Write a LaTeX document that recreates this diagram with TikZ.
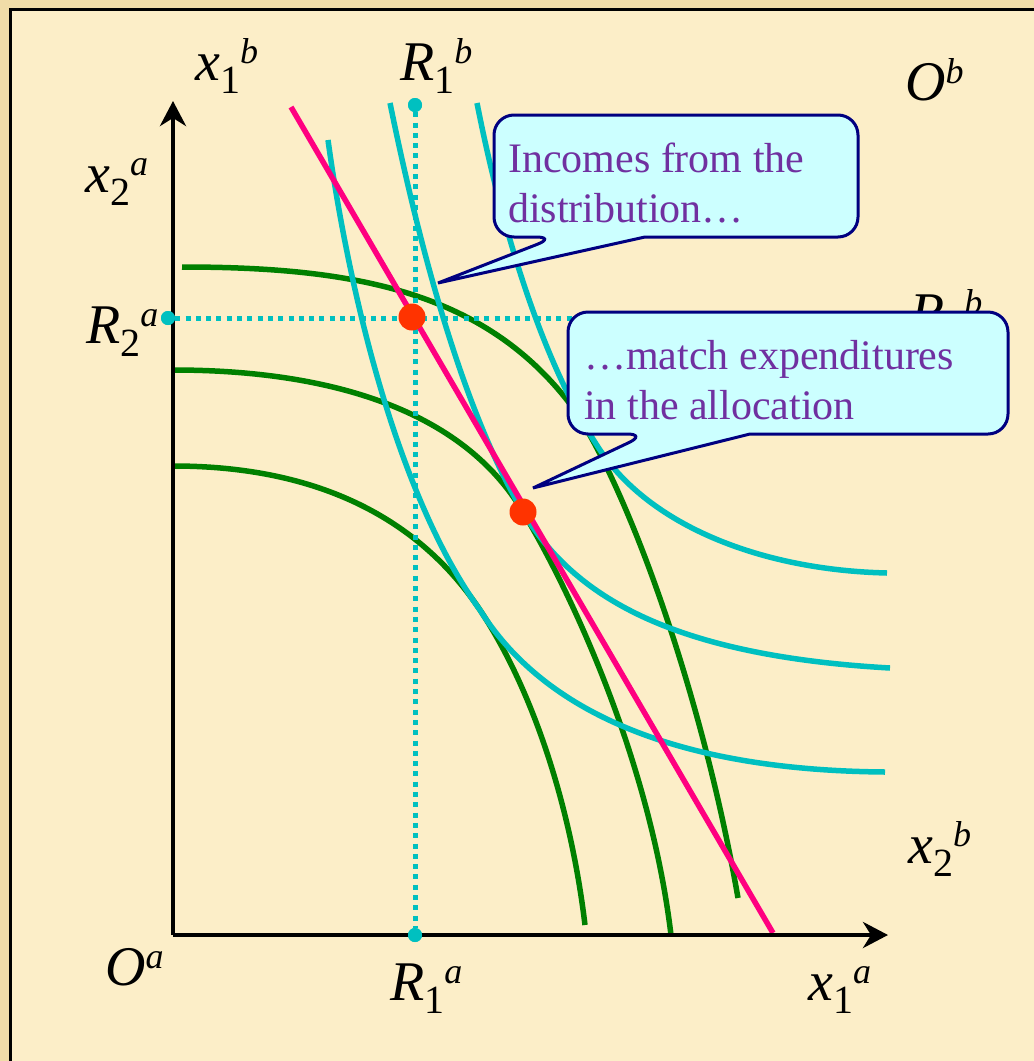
\documentclass[tikz,border=0pt]{standalone}
\usepackage{fontspec}
\setmainfont{Liberation Serif}
\usetikzlibrary{arrows.meta}
\definecolor{bgin}{HTML}{FCEEC8}
\definecolor{bgout}{HTML}{F0DCA8}
\definecolor{icgreen}{HTML}{008000}
\definecolor{iccyan}{HTML}{00C0C0}
\definecolor{budget}{HTML}{FF0080}
\definecolor{ptred}{HTML}{FF3300}
\definecolor{callfill}{HTML}{CCFFFF}
\definecolor{calldraw}{HTML}{000080}
\definecolor{calltext}{HTML}{7030A0}
\newcommand\axlbl[3]{{\fontsize{56}{60}\selectfont\itshape #1}\raisebox{-13pt}{\fontsize{40}{40}\selectfont #2}\raisebox{17pt}{\fontsize{36}{36}\selectfont\itshape #3}}
\begin{document}
\begin{tikzpicture}[x=1pt,y=-1pt,
  axis/.style={line width=4.5pt,-{Stealth[length=25pt,width=26pt,inset=8pt]}},
  icA/.style={icgreen,line width=5.5pt},
  icB/.style={iccyan,line width=5.5pt},
  budgetline/.style={budget,line width=5.5pt},
  guide/.style={iccyan,line width=5pt,dash pattern=on 5pt off 5.3pt},
  endow/.style={circle,fill=iccyan,inner sep=0pt,minimum size=14pt},
  eqpt/.style={circle,fill=ptred,inner sep=0pt,minimum size=27pt},
  lbl/.style={anchor=base west,inner sep=0pt,text=black},
  callout/.style={fill=callfill,draw=calldraw,line width=3pt,line join=miter},
  calltxt/.style={anchor=base west,inner sep=0pt,text=calltext,font=\fontsize{42}{50}\selectfont}]
\useasboundingbox (0,0) rectangle (1034,1061);
\fill[bgout] (0,0) rectangle (1034,1061);
\fill[bgin] (10,9) rectangle (1034,1061);
\draw[line width=3pt] (10,1070) -- (10,9) -- (1040,9);

% indifference curves of a (green)
\draw[icA] (182,267) .. controls (350,267) and (480,290) .. (567,400)
                     .. controls (619,466) and (700,680) .. (738,898);
\draw[icA] (173,370) .. controls (330,370) and (463,410) .. (523,512)
                     .. controls (570,590) and (650,760) .. (671,935);
\draw[icA] (173,466) .. controls (320,466) and (420,520) .. (480,610)
                     .. controls (530,685) and (570,800) .. (585,925);

% indifference curves of b (cyan)
\draw[icB] (477,103) .. controls (500,220) and (540,360) .. (600,450)
                     .. controls (650,525) and (760,570) .. (887,573);
\draw[icB] (390,103) .. controls (420,250) and (463,410) .. (523,512)
                     .. controls (570,590) and (660,655) .. (890,668);
\draw[icB] (328,140) .. controls (350,300) and (400,500) .. (480,610)
                     .. controls (530,690) and (640,770) .. (885,772);

% budget line
\coordinate (bl1) at (291,107);
\coordinate (bl2) at (773,933);
\draw[budgetline] (bl1) -- (bl2);

% axes
\coordinate (Oa) at (173,935);
\coordinate (ytip) at (173,101);
\coordinate (xtip) at (888,935);
\draw[axis] (Oa) -- (ytip);
\draw[axis] (Oa) -- (xtip);

% endowment guides
\node[endow] (R2a) at (168,318) {};
\node[endow] (R1b) at (415,105) {};
\node[endow] (R1a) at (415,935) {};
\coordinate (R2bend) at (600,318);
\draw[guide] (R2a) -- (R2bend);
\draw[guide] (R1b) -- (R1a);
\node[endow] at (168,318) {};
\node[endow] at (415,105) {};
\node[endow] at (415,935) {};

% equilibrium points
\node[eqpt] (E1) at (412,317) {};
\node[eqpt] (E2) at (523,512) {};

% labels
\node[lbl] (lx2a) at (85,192) {\axlbl{x}{2}{a}};
\node[lbl] (lx1b) at (195,80) {\axlbl{x}{1}{b}};
\node[lbl] (lR1b) at (400,80) {\axlbl{R}{1}{b}};
\node[lbl] (lOb) at (905,100) {\axlbl{O}{}{b}};
\node[lbl] (lR2a) at (86,343) {\axlbl{R}{2}{a}};
\node[lbl] (lR2b) at (910,331) {\axlbl{R}{2}{b}};
\node[lbl] (lx2b) at (908,863) {\axlbl{x}{2}{b}};
\node[lbl] (lOa) at (105,985) {\axlbl{O}{}{a}};
\node[lbl] (lR1a) at (390,1000) {\axlbl{R}{1}{a}};
\node[lbl] (lx1a) at (808,1000) {\axlbl{x}{1}{a}};

% callout 1
\draw[callout] (556,237) -- (438,283) -- (645,237) [rounded corners=20pt] -- (858,237) -- (858,115) -- (494,115) -- (494,237) -- cycle;
\node[calltxt] (c1a) at (508,172) {Incomes from the};
\node[calltxt] (c1b) at (508,222) {distribution…};

% callout 2
\draw[callout] (647,434) -- (533,488) -- (750,434) [rounded corners=20pt] -- (1008,434) -- (1008,312) -- (568,312) -- (568,434) -- cycle;
\node[calltxt] (c2a) at (584,369) {…match expenditures};
\node[calltxt] (c2b) at (584,419) {in the allocation};
\end{tikzpicture}
\end{document}
